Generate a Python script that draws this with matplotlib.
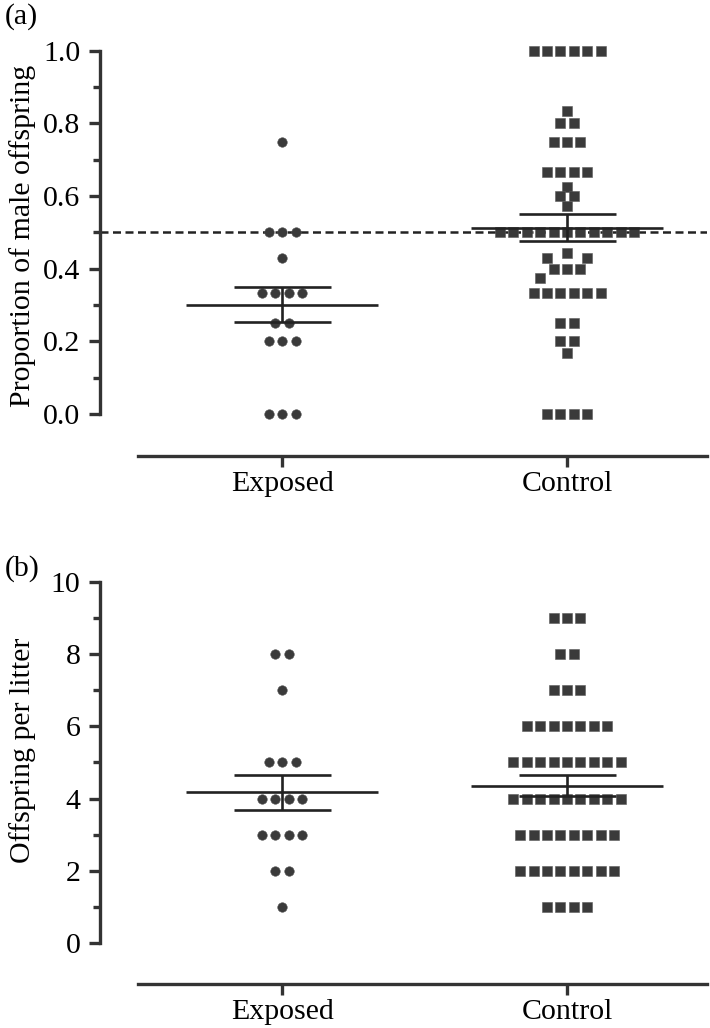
import numpy as np
import matplotlib
matplotlib.use('Agg')
import matplotlib.pyplot as plt
from matplotlib.ticker import FixedLocator, FormatStrFormatter

plt.rcParams['font.family'] = ['Liberation Serif', 'DejaVu Serif']

groups = ['Exposed', 'Control']

# (a) proportion of male offspring per litter: distinct values and how many litters
exp_prop_vals = [0.75, 0.5, 0.43, 1/3, 0.25, 0.2, 0.0]
exp_prop_counts = [1, 3, 1, 4, 2, 3, 3]
ctl_prop_vals = [1.0, 5/6, 0.8, 0.75, 2/3, 0.625, 0.6, 4/7, 0.5, 4/9, 3/7,
                 0.4, 0.375, 1/3, 0.25, 0.2, 1/6, 0.0]
ctl_prop_counts = [6, 1, 2, 3, 4, 1, 2, 1, 11, 1, 2, 3, 1, 6, 2, 2, 1, 4]

# (b) offspring per litter
exp_litter_vals = [8, 7, 5, 4, 3, 2, 1]
exp_litter_counts = [2, 1, 3, 4, 4, 2, 1]
ctl_litter_vals = [9, 8, 7, 6, 5, 4, 3, 2, 1]
ctl_litter_counts = [3, 2, 3, 7, 9, 9, 8, 8, 4]

ink = '#333333'
dot = '#3a3a3a'
fs = 21.5

fig = plt.figure(figsize=(7.1, 10.28), dpi=100)
ax1 = fig.add_axes([100/710, 1-456/1028, 607/710, 416/1028])
ax2 = fig.add_axes([100/710, 1-984/1028, 607/710, 414/1028])


def swarm(ax, vals, counts, center, slot_px=13.4, thr_px=11.0):
    # prism-like column scatter: rows of equal values, nudged apart when they touch
    p0 = ax.transData.transform((0, 0))
    p1 = ax.transData.transform((1, 1))
    sx, sy = p1[0]-p0[0], p1[1]-p0[1]
    placed = []
    xs, ys = [], []
    for v, n in sorted(zip(vals, counts), reverse=True):
        grid = np.arange(-8, 9) + (0.5 if n % 2 == 0 else 0.0)
        cands = sorted(grid, key=lambda o: (abs(o), o))
        for i in range(n):
            for o in cands:
                px, py = o*slot_px, v*sy
                if all((px-qx)**2 + (py-qy)**2 >= thr_px**2 for qx, qy in placed):
                    break
            placed.append((px, py))
            xs.append(center + px/sx)
            ys.append(v)
    return np.array(xs), np.array(ys)


def mean_sem(ax, ys, center):
    m = ys.mean()
    se = ys.std(ddof=1)/np.sqrt(len(ys))
    ax.hlines(m, center-0.337, center+0.337, color='#222222', lw=1.9, zorder=4)
    ax.hlines([m-se, m+se], center-0.17, center+0.17, color='#222222', lw=1.9, zorder=4)
    ax.vlines(center, m-se, m+se, color='#222222', lw=1.9, zorder=4)


def style(ax, ymax, major, fmt):
    ax.set_xlim(0.361, 2.491)
    for s in ['top', 'right']:
        ax.spines[s].set_visible(False)
    for s in ['left', 'bottom']:
        ax.spines[s].set_linewidth(2.4)
        ax.spines[s].set_color(ink)
    ax.spines['left'].set_bounds(0, ymax)
    ax.spines['bottom'].set_bounds(0.495, 2.491)
    ax.set_xticks([1, 2], groups)
    ax.yaxis.set_major_locator(FixedLocator(np.arange(0, ymax + major/2, major)))
    ax.yaxis.set_minor_locator(FixedLocator(np.arange(major/2, ymax, major)))
    ax.yaxis.set_major_formatter(FormatStrFormatter(fmt))
    ax.tick_params(axis='y', which='major', length=8, width=2.4, color=ink,
                   labelsize=fs, pad=6)
    ax.tick_params(axis='y', which='minor', length=5, width=2.4, color=ink)
    ax.tick_params(axis='x', length=8, width=2.4, color=ink, labelsize=fs, pad=3)


# panel (a)
ax1.set_ylim(-0.116, 1.030)
style(ax1, 1.0, 0.2, '%.1f')
ax1.axhline(0.5, color='#222222', lw=1.8, ls=(0, (3.2, 1.8)), zorder=1)
x, y = swarm(ax1, exp_prop_vals, exp_prop_counts, 1)
ax1.scatter(x, y, s=47, marker='o', color=dot, edgecolor='#555555', lw=0.4, zorder=3)
mean_sem(ax1, y, 1)
x, y = swarm(ax1, ctl_prop_vals, ctl_prop_counts, 2)
ax1.scatter(x, y, s=56, marker='s', color=dot, edgecolor='#5a5a5a', lw=0.4, zorder=3)
mean_sem(ax1, y, 2)
ax1.set_ylabel('Proportion of male offspring', fontsize=fs)
ax1.yaxis.set_label_coords(-0.106, 0.53)

# panel (b)
ax2.set_ylim(-1.136, 10.33)
style(ax2, 10, 2, '%d')
x, y = swarm(ax2, exp_litter_vals, exp_litter_counts, 1)
ax2.scatter(x, y, s=47, marker='o', color=dot, edgecolor='#555555', lw=0.4, zorder=3)
mean_sem(ax2, y, 1)
x, y = swarm(ax2, ctl_litter_vals, ctl_litter_counts, 2)
ax2.scatter(x, y, s=56, marker='s', color=dot, edgecolor='#5a5a5a', lw=0.4, zorder=3)
mean_sem(ax2, y, 2)
ax2.set_ylabel('Offspring per litter', fontsize=fs)
ax2.yaxis.set_label_coords(-0.106, 0.565)

fig.text(5/710, 1-3/1028, '(a)', fontsize=fs, va='top', ha='left')
fig.text(5/710, 1-555/1028, '(b)', fontsize=fs, va='top', ha='left')

fig.savefig('out.png', dpi=100)
